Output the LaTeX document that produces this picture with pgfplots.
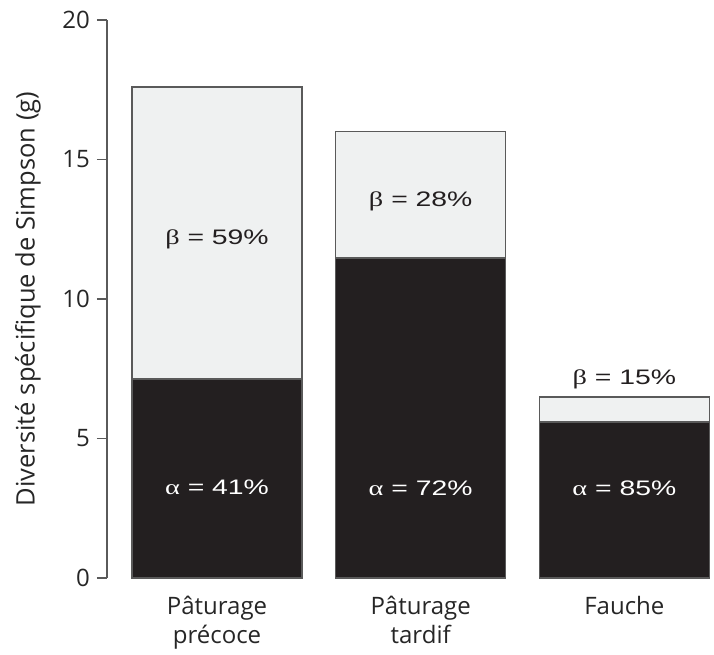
\documentclass[border=0pt]{standalone}
\usepackage{pgfplots}
\pgfplotsset{compat=1.18}
\usepackage{fontspec}
\setmainfont{Open Sans}
\newfontfamily\labfont{Liberation Sans}
\newfontfamily\grkfont{Liberation Serif}
\definecolor{darkbar}{HTML}{231F20}
\definecolor{lightbar}{HTML}{EFF1F1}
\definecolor{edge}{HTML}{5A5A5A}
\newcommand{\inlbl}[2]{{\grkfont #1} = #2\%}

\begin{document}
\begin{tikzpicture}
\begin{axis}[
  name=ax,
  scale only axis,
  width=607pt, height=558pt,
  ybar stacked,
  bar width=0.835,
  xmin=-0.54, xmax=2.44,
  ymin=0, ymax=20,
  axis y line*=left,
  axis x line*=bottom,
  x axis line style={draw=none},
  y axis line style={edge, line width=1.3pt},
  ytick={0,5,10,15,20},
  yticklabels={0,5,10,15,20},
  xtick={0,1,2},
  xticklabels={{Pâturage\\précoce},{Pâturage\\tardif},{Fauche}},
  tick align=outside,
  major tick length=10pt,
  major x tick style={draw=none},
  major y tick style={edge, line width=1.3pt},
  yticklabel style={font=\fontsize{24}{27}\selectfont, text=black!85, inner sep=2pt, xshift=-5pt},
  xticklabel style={font=\fontsize{24}{29}\selectfont, text=black!85, align=center, anchor=north, yshift=-5pt},
  ylabel={Diversité spécifique de Simpson (g)},
  ylabel style={font=\fontsize{25.5}{30}\selectfont, text=black!85, at={(axis description cs:0,0.5)},
    anchor=north, inner sep=0pt, yshift=92pt},
  clip=false,
]
\addplot[fill=darkbar, draw=edge, line width=1.3pt] coordinates {(0,7.13) (1,11.47) (2,5.59)};
\addplot[fill=lightbar, draw=edge, line width=1.3pt] coordinates {(0,10.47) (1,4.53) (2,0.90)};

\coordinate (b1) at (axis cs:0,11.97);
\coordinate (b2) at (axis cs:1,13.3);
\coordinate (b3) at (axis cs:2,6.92);
\coordinate (a1) at (axis cs:0,3.01);
\coordinate (a2) at (axis cs:1,2.97);
\coordinate (a3) at (axis cs:2,2.97);
\end{axis}

\begin{scope}[every node/.style={font=\labfont\fontsize{21}{24}\selectfont, anchor=base, inner sep=0pt, xscale=1.35}]
\node[text=darkbar] at (b1) {\inlbl{β}{59}};
\node[text=darkbar] at (b2) {\inlbl{β}{28}};
\node[text=darkbar] at (b3) {\inlbl{β}{15}};
\node[text=white] at (a1) {\inlbl{α}{41}};
\node[text=white] at (a2) {\inlbl{α}{72}};
\node[text=white] at (a3) {\inlbl{α}{85}};
\end{scope}

\pgfresetboundingbox
\path ([shift={(-107pt,-77pt)}]ax.south west) rectangle ([shift={(0pt,20pt)}]ax.north east);
\end{tikzpicture}
\end{document}
